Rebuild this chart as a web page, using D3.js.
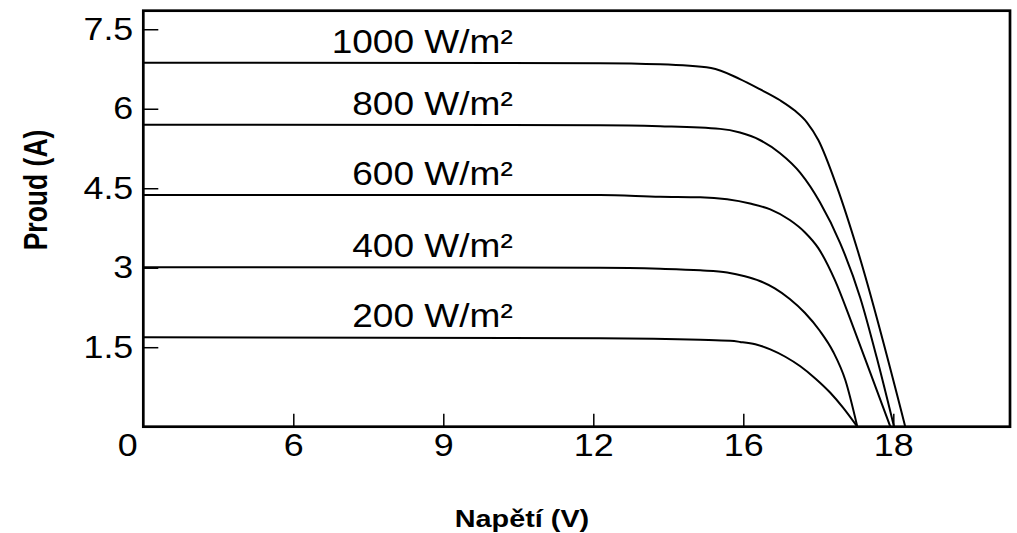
<!DOCTYPE html>
<html>
<head>
<meta charset="utf-8">
<script src="https://cdn.jsdelivr.net/npm/d3@7"></script>
<style>
  body { margin: 0; background: #fff; }
  svg { display: block; font-family: "Liberation Sans", Arial, sans-serif; }
</style>
</head>
<body>
<svg id="chart" width="1017" height="533"></svg>
<script>
// tick labels (x axis is not linear in the source, so each label gets its own slot)
var xTicks = [0, 6, 9, 12, 16, 18];
var yTicks = [1.5, 3, 4.5, 6, 7.5];

// irradiance levels
var levels = ['1000 W/m²', '800 W/m²', '600 W/m²', '400 W/m²', '200 W/m²'];

var curve1000 = [[0,6.87],[12.18,6.86],[13.78,6.84],[15.14,6.77],[15.91,6.56],[16.22,6.37],[16.49,6.16],[16.69,5.96],[16.85,5.74],[17.0,5.41],[17.25,4.52],[17.53,3.30],[18.16,0]];
var curve800 = [[0,5.70],[12.18,5.69],[13.78,5.67],[15.38,5.62],[15.91,5.55],[16.22,5.41],[16.49,5.16],[16.76,4.79],[17.02,4.24],[17.29,3.47],[17.56,2.43],[17.78,1.30],[18.01,0]];
var curve600 = [[0,4.37],[12.18,4.37],[13.78,4.34],[14.85,4.33],[15.57,4.29],[16.09,4.21],[16.36,4.10],[16.62,3.90],[16.82,3.67],[17.0,3.37],[17.22,2.77],[17.45,1.94],[17.69,1.03],[17.96,0]];
var curve400 = [[0,3.01],[12.18,3.0],[13.78,2.98],[14.85,2.95],[15.57,2.91],[16.02,2.84],[16.22,2.75],[16.42,2.61],[16.62,2.41],[16.82,2.15],[17.02,1.81],[17.2,1.41],[17.36,0.88],[17.52,0]];
var curve200 = [[0,1.69],[12.18,1.67],[14.85,1.64],[15.65,1.62],[15.91,1.60],[16.16,1.555],[16.36,1.46],[16.56,1.32],[16.76,1.14],[16.96,0.91],[17.16,0.64],[17.33,0.36],[17.52,0]];

var curves = [curve1000, curve800, curve600, curve400, curve200];

var svg = d3.select('#chart');

var pLeft = 143.3, pRight = 1010, pTop = 10.7, pBottom = 426.7;

// piecewise scale, every labelled tick is 150px apart
var x = d3.scaleLinear()
	.domain([0, 6, 9, 12, 16, 18, 19.56])
	.range([pLeft, pLeft+150, pLeft+300, pLeft+450, pLeft+600, pLeft+750, pRight]);

var y = d3.scaleLinear()
	.domain([0, 7.85])
	.range([pBottom, pTop]);

// the source text looks a bit wider than the font, stretch it horizontally
function stretch(sel, sx, dx){
	sel.attr('x', 0).attr('transform', 'translate('+(dx||0)+',0) scale('+sx+',1)');
}

// x axis
var gx = svg.append('g')
	.attr('transform', 'translate(0,'+pBottom+')')
	.call(d3.axisBottom(x)
		.tickValues(xTicks)
		.tickFormat(function(d){ return String(d); })
		.tickSize(-13)
		.tickSizeOuter(0)
		.tickPadding(7));
gx.select('.domain').remove();
gx.selectAll('.tick line').attr('stroke', '#000').attr('stroke-width', 1.5);
gx.selectAll('.tick text')
	.attr('font-size', '32px')
	.attr('font-family', '"Liberation Sans", Arial, sans-serif')
	.attr('fill', '#000')
	.call(stretch, 1.12, 0);
// origin label sits left of the corner, no tick there
gx.selectAll('.tick').filter(function(d){ return d === 0; })
	.each(function(){
		d3.select(this).select('line').remove();
		d3.select(this).select('text').call(stretch, 1.12, -16);
	});

// y axis
var gy = svg.append('g')
	.attr('transform', 'translate('+pLeft+',0)')
	.call(d3.axisLeft(y)
		.tickValues(yTicks)
		.tickFormat(function(d){ return String(d); })
		.tickSize(-15)
		.tickSizeOuter(0)
		.tickPadding(10));
gy.select('.domain').remove();
gy.selectAll('.tick line').attr('stroke', '#000').attr('stroke-width', 1.5);
gy.selectAll('.tick text')
	.attr('font-size', '32px')
	.attr('font-family', '"Liberation Sans", Arial, sans-serif')
	.attr('fill', '#000')
	.call(stretch, 1.12, -10);

// curves
var line = d3.line()
	.x(function(d){ return x(d[0]); })
	.y(function(d){ return y(d[1]); })
	.curve(d3.curveMonotoneX);

svg.selectAll('.iv')
	.data(curves)
	.enter()
	.append('path')
	.attr('class', 'iv')
	.attr('d', line)
	.attr('fill', 'none')
	.attr('stroke', '#000')
	.attr('stroke-width', 2);

// irradiance labels just above the flat part
svg.selectAll('.lvl')
	.data(levels)
	.enter()
	.append('text')
	.attr('class', 'lvl')
	.attr('transform', function(d, i){
		return 'translate('+x(10.39)+','+(y(curves[i][0][1]) - 10)+') scale(1.09,1)';
	})
	.attr('text-anchor', 'end')
	.attr('font-size', '34px')
	.attr('fill', '#000')
	.text(function(d){ return d; });

// frame
svg.append('rect')
	.attr('x', pLeft)
	.attr('y', pTop)
	.attr('width', pRight-pLeft)
	.attr('height', pBottom-pTop)
	.attr('fill', 'none')
	.attr('stroke', '#000')
	.attr('stroke-width', 2.7);

// axis titles
svg.append('text')
	.attr('transform', 'translate(522,527) scale(1.2,1)')
	.attr('text-anchor', 'middle')
	.attr('font-size', '24px')
	.attr('font-weight', 'bold')
	.text('Napětí (V)');

svg.append('text')
	.attr('transform', 'translate(47,190) rotate(-90) scale(1,1.25)')
	.attr('text-anchor', 'middle')
	.attr('font-size', '26.5px')
	.attr('font-weight', 'bold')
	.text('Proud (A)');
</script>
</body>
</html>
